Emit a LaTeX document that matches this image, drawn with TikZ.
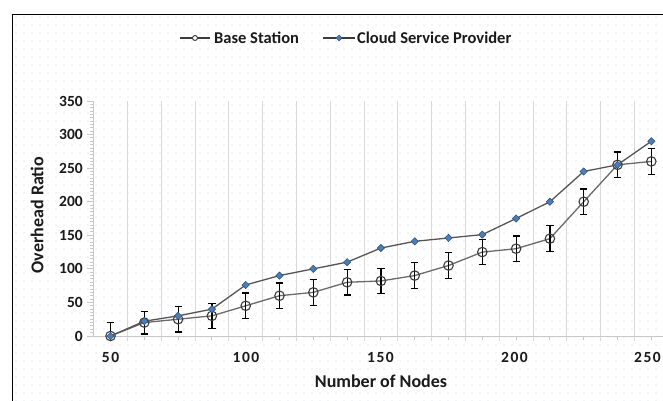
\documentclass[tikz,border=0pt]{standalone}
\usepackage{fontspec}
\setmainfont{Carlito}
\newfontfamily\spacedfont[LetterSpace=10]{Carlito}
\usetikzlibrary{patterns.meta,shapes.geometric}

\definecolor{dotblue}{HTML}{C4D8EE}
\definecolor{gridgray}{HTML}{D9D9D9}
\definecolor{axisgray}{HTML}{C8C8C8}
\definecolor{bsgray}{HTML}{6A6A6A}
\definecolor{cspgray}{HTML}{555555}
\definecolor{ringgray}{HTML}{3C3C3C}
\definecolor{markerblue}{HTML}{4A7EBB}
\definecolor{markeredge}{HTML}{2C4C72}
\definecolor{inkdark}{HTML}{1A1A1A}

\begin{document}
\begin{tikzpicture}[x=1pt,y=-1pt,
  ticklabel/.style={font=\bfseries\fontsize{15.5}{18}\selectfont, text=inkdark, inner sep=0pt},
  xticklabel/.style={font=\spacedfont\bfseries\fontsize{15.5}{18}\selectfont, text=inkdark, inner sep=0pt},
  axistitle/.style={font=\bfseries\fontsize{18}{21}\selectfont, text=inkdark, inner sep=0pt},
  legendtext/.style={font=\bfseries\fontsize{16.5}{20}\selectfont, text=inkdark, inner sep=0pt, anchor=west},
  gridline/.style={draw=gridgray, line width=1pt},
  axisline/.style={draw=axisgray, line width=1pt},
  bsline/.style={draw=bsgray, line width=1.3pt},
  cspline/.style={draw=cspgray, line width=1.3pt},
  errbar/.style={draw=black, line width=1.2pt},
  bsmark/.style={circle, draw=ringgray, line width=1.1pt, minimum size=9.5pt, inner sep=0pt},
  cspmark/.style={diamond, fill=markerblue, draw=markeredge, line width=0.5pt, minimum size=7.5pt, inner sep=0pt},
  legbsmark/.style={circle, draw=ringgray, fill=white, line width=0.9pt, minimum size=5pt, inner sep=0pt},
  legcspmark/.style={diamond, fill=markerblue, draw=markeredge, line width=0.5pt, minimum size=6pt, inner sep=0pt}
]
% page, frame and dotted chart background
\useasboundingbox (0,0) rectangle (663,401);
\fill[white] (0,0) rectangle (663,401);
\fill[pattern={Dots[distance=8pt,radius=0.55pt]}, pattern color=dotblue] (12.5,14.5) rectangle (663,401);
\draw[line width=1.3pt] (12.5,420) -- (12.5,14.5) -- (680,14.5);

% vertical gridlines between categories, with ticks under the axis
\foreach \k in {1,...,16} {
  \draw[gridline] ({93.6+33.8*\k},101) -- ({93.6+33.8*\k},341);
}
\foreach \k in {0,...,16} {
  \draw[axisline] ({110.5+33.8*\k},336) -- ({110.5+33.8*\k},339.5);
}
% axes
\draw[axisline] (93.6,101) -- (93.6,336) -- (670,336);
\foreach \t in {0,5,...,350} {
  \draw[axisline] (90,{336-0.6714*\t}) -- (93.6,{336-0.6714*\t});
}
\foreach \t in {0,50,...,350} {
  \draw[axisline] (87,{336-0.6714*\t}) -- (93.6,{336-0.6714*\t});
  \node[ticklabel, anchor=east] (ylab\t) at (83,{336-0.6714*\t}) {\t};
}
\foreach \n/\xc in {50/110.5,100/246,150/380.5,200/514.5,250/647.5} {
  \node[xticklabel] (xlab\n) at (\xc,357) {\n};
}
\node[axistitle] (xtitle) at (381,381) {Number of Nodes};
\node[axistitle, rotate=90] (ytitle) at (37,215) {Overhead Ratio};

% data points
\foreach \v [count=\i from 0] in {0,20,25,30,45,60,65,80,82,90,105,125,130,145,200,255,260} {
  \coordinate (b\i) at ({110.5+33.8*\i},{336-0.6714*\v});
}
\foreach \v [count=\i from 0] in {0,22,30,40,76,90,100,110,131,141,146,151,175,200,245,255,290} {
  \coordinate (c\i) at ({110.5+33.8*\i},{336-0.6714*\v});
}

% Base Station series with error bars
\draw[bsline] (b0) \foreach \i in {1,...,16} { -- (b\i) };
\begin{scope}
  \clip (93.6,90) rectangle (670,336);
  \foreach \e [count=\i from 0] in {20,17,19,19,19,19,19,19,19,19,19,19,19,19,19,19,19} {
    \draw[errbar] ([yshift=-0.6714*\e]b\i) -- ([yshift=0.6714*\e]b\i);
    \draw[errbar] ([xshift=-3.6pt,yshift=-0.6714*\e]b\i) -- ([xshift=3.6pt,yshift=-0.6714*\e]b\i);
    \draw[errbar] ([xshift=-3.6pt,yshift=0.6714*\e]b\i) -- ([xshift=3.6pt,yshift=0.6714*\e]b\i);
  }
\end{scope}
\foreach \i in {0,...,16} {
  \node[bsmark] (bm\i) at (b\i) {};
}

% Cloud Service Provider series
\draw[cspline] (c0) \foreach \i in {1,...,16} { -- (c\i) };
\foreach \i in {0,...,16} {
  \node[cspmark] (cm\i) at (c\i) {};
}

% legend
\coordinate (lbsa) at (180,38);
\coordinate (lbsb) at (210,38);
\draw[draw=ringgray, line width=1.1pt] (lbsa) -- (lbsb);
\node[legbsmark] (lbsm) at (195,38) {};
\node[legendtext] (legbs) at (214,38) {Base Station};
\coordinate (lcspa) at (323,38);
\coordinate (lcspb) at (355,38);
\draw[draw=ringgray, line width=1.1pt] (lcspa) -- (lcspb);
\node[legcspmark] (lcspm) at (339,38) {};
\node[legendtext] (legcsp) at (357,38) {Cloud Service Provider};
\end{tikzpicture}
\end{document}
